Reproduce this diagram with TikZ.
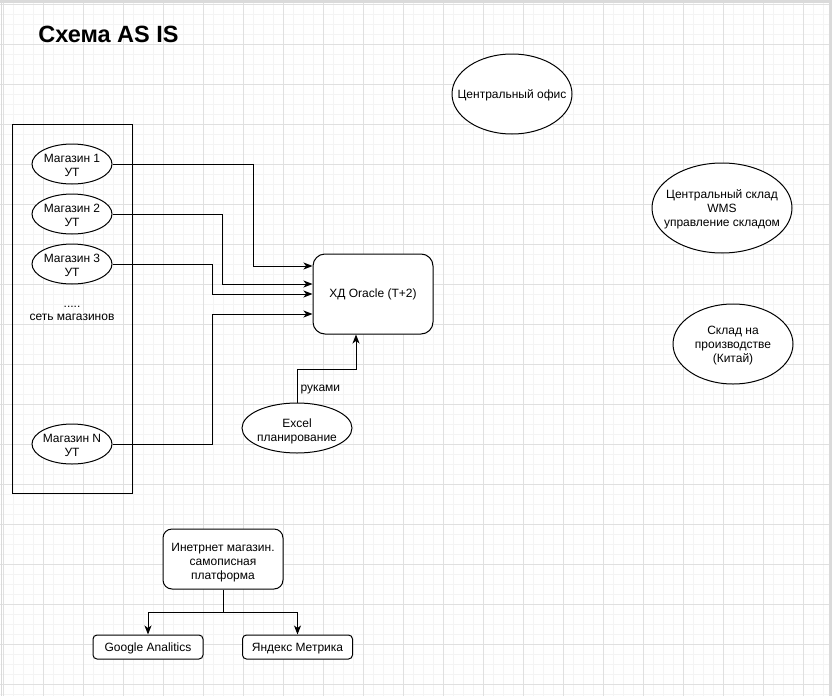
\documentclass[tikz,border=0pt]{standalone}
\usepackage{fontspec}
\setmainfont{Liberation Sans}
\usetikzlibrary{shapes.geometric}
\usetikzlibrary{arrows.meta}
\definecolor{gridmajor}{RGB}{224,224,224}
\definecolor{gridminor}{RGB}{244,244,244}
\definecolor{pageedge}{RGB}{218,218,218}

\begin{document}
\begin{tikzpicture}[x=1pt,y=-1pt,line width=1pt,font=\fontsize{12}{13.8}\selectfont]
\tikzstyle{oval}=[ellipse,draw,fill=white,inner sep=0pt,minimum width=80pt,minimum height=40pt]
\tikzstyle{system}=[rectangle,draw,fill=white,rounded corners=12pt,minimum width=120pt,minimum height=80pt,align=center]
\tikzstyle{shapetext}=[align=center,inner sep=0pt,yshift=-1.5pt]
\tikzstyle{flow}=[-{Stealth[length=9pt,width=7pt,inset=2.5pt]}]
% background grid
\useasboundingbox (0,0) rectangle (832,696);
\fill[white] (0,0) rectangle (832,696);
\foreach \x in {3,13,...,833} \draw[gridminor] (\x,0) -- (\x,696);
\foreach \y in {4,14,...,694} \draw[gridminor] (0,\y) -- (832,\y);
\foreach \x in {3,43,...,803} \draw[gridmajor] (\x,0) -- (\x,696);
\foreach \y in {4,44,...,684} \draw[gridmajor] (0,\y) -- (832,\y);
\fill[pageedge] (0,0) rectangle (832,3);
\fill[pageedge] (829,0) rectangle (832,696);
\draw[pageedge] (1.5,0) -- (1.5,696);
% title
\node[font=\fontsize{23.5}{28}\selectfont\bfseries] (title) at (108.5,34) {Схема AS IS};
% store network
\node[draw,inner sep=0pt,minimum width=120pt,minimum height=369pt] (net) at (72,308.5) {};
\node[oval,label={[shapetext]center:{Магазин 1\\УТ}}] (m1) at (72,164) {};
\node[oval,label={[shapetext]center:{Магазин 2\\УТ}}] (m2) at (72,214) {};
\node[oval,label={[shapetext]center:{Магазин 3\\УТ}}] (m3) at (72,264) {};
\node[shapetext] (more) at (72,312) {.....\\сеть магазинов};
\node[oval,label={[shapetext]center:{Магазин N\\УТ}}] (mN) at (72,444) {};
% warehouse
\node[system] (xd) at (373,294) {ХД Oracle (T+2)};
\node[oval,minimum width=110pt,minimum height=50pt,label={[shapetext,yshift=-2pt]center:{Excel\\планирование}}] (excel) at (297,428) {};
% other sites
\node[oval,minimum width=120pt,minimum height=80pt,label={[shapetext]center:{Центральный офис}}] (office) at (512,94) {};
\node[oval,minimum width=140pt,minimum height=90pt,label={[shapetext]center:{Центральный склад\\WMS\\управление складом}}] (wms) at (722,208) {};
\node[oval,minimum width=120pt,minimum height=80pt,label={[shapetext]center:{Склад на\\производстве\\(Китай)}}] (factory) at (733,344) {};
% web shop
\node[system,rounded corners=9pt,minimum height=60pt,label={[shapetext,yshift=-2pt]center:{Инетрнет магазин.\\самописная\\платформа}}] (shop) at (223,559) {};
\node[system,rounded corners=4pt,minimum width=110pt,minimum height=24pt,text depth=0pt] (ga) at (148,647) {Google Analitics};
\node[system,rounded corners=4pt,minimum width=110pt,minimum height=24pt,text depth=0pt] (ym) at (297.5,647) {Яндекс Метрика};
% connectors
\draw[flow] (m1.east) -- (253,164) |- ([yshift=28pt]xd.west);
\draw[flow] (m2.east) -- (222,214) |- ([yshift=10pt]xd.west);
\draw[flow] (m3.east) -- (212,264) |- (xd.west);
\draw[flow] (mN.east) -- (212,444) |- ([yshift=-20pt]xd.west);
\draw[flow] (excel.north) -- node[right,inner sep=3pt,pos=0.4] (hands) {руками} (297,369) -| ([xshift=-17pt]xd.south);
\coordinate (split) at (223,612);
\draw (shop.south) -- (split);
\draw[flow] (split) -| (ga.north);
\draw[flow] (split) -| (ym.north);
\end{tikzpicture}
\end{document}
